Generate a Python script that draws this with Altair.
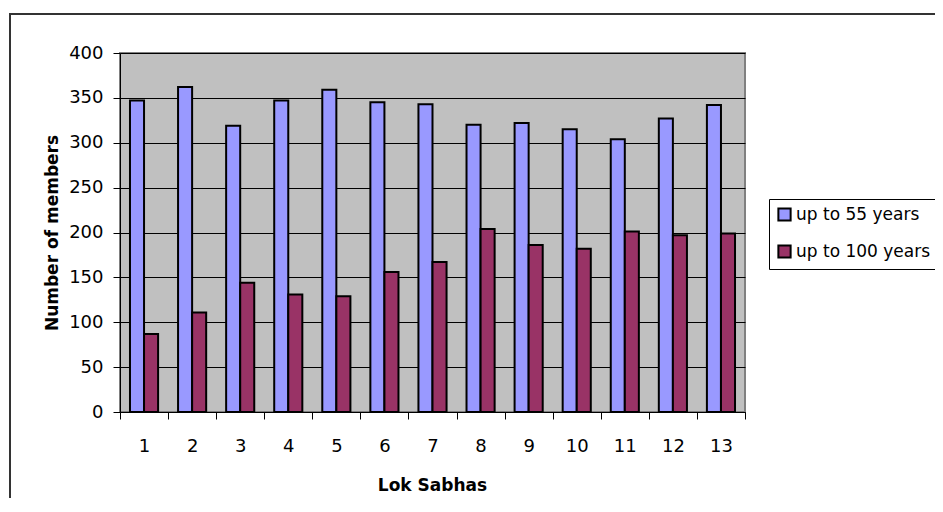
import altair as alt
import pandas as pd

sabhas = [str(i) for i in range(1, 14)]
series_names = ["up to 55 years", "up to 100 years"]
up_to_55 = [347, 362, 319, 347, 359, 345, 343, 320, 322, 315, 304, 327, 342]
up_to_100 = [87, 111, 144, 131, 129, 156, 167, 204, 186, 182, 201, 197, 199]
y_ticks = [0, 50, 100, 150, 200, 250, 300, 350, 400]
colors = ["#9999FF", "#993366"]

rows = []
for i, s in enumerate(sabhas):
    rows.append({"sabha": s, "series": series_names[0], "value": up_to_55[i]})
    rows.append({"sabha": s, "series": series_names[1], "value": up_to_100[i]})
df = pd.DataFrame(rows)

FONT = "DejaVu Sans"

bars = alt.Chart(df).mark_bar(stroke="black", strokeWidth=2).encode(
    x=alt.X(
        "sabha:O",
        sort=sabhas,
        scale=alt.Scale(paddingInner=0, paddingOuter=0),
        axis=alt.Axis(
            title="Lok Sabhas",
            labelAngle=0,
            tickBand="extent",
            tickSize=7,
            tickColor="black",
            domainColor="black",
            labelFont=FONT,
            labelFontSize=18,
            labelColor="black",
            labelPadding=18,
            titleFont=FONT,
            titleFontSize=17,
            titleFontWeight="bold",
            titleColor="black",
            titleX=312,
            titleY=78,
            titleBaseline="alphabetic",
            titleAlign="center",
            grid=False,
        ),
    ),
    xOffset=alt.XOffset(
        "series:N",
        sort=series_names,
        scale=alt.Scale(paddingInner=0, paddingOuter=0.71),
    ),
    y=alt.Y(
        "value:Q",
        scale=alt.Scale(domain=[0, 400], nice=False),
        axis=alt.Axis(
            title="Number of members",
            values=y_ticks,
            tickSize=7,
            tickColor="black",
            domainColor="black",
            grid=True,
            gridColor="black",
            gridWidth=1,
            labelFont=FONT,
            labelFontSize=18,
            labelColor="black",
            labelPadding=10,
            titleFont=FONT,
            titleFontSize=17,
            titleFontWeight="bold",
            titleColor="black",
            titleX=-63,
            titleY=179.5,
            titleBaseline="alphabetic",
            titleAlign="center",
        ),
    ),
    color=alt.Color(
        "series:N",
        sort=series_names,
        scale=alt.Scale(domain=series_names, range=colors),
        legend=alt.Legend(
            title=None,
            orient="none",
            legendX=649,
            legendY=146,
            fillColor="white",
            strokeColor="black",
            padding=7,
            labelFont=FONT,
            labelFontSize=17,
            labelColor="black",
            labelLimit=400,
            labelOffset=3,
            symbolType="square",
            symbolSize=150,
            symbolStrokeColor="black",
            symbolStrokeWidth=2,
            symbolOpacity=1,
            rowPadding=16,
        ),
    ),
)

border = alt.Chart(pd.DataFrame({"a": [0]})).mark_rect(
    fillOpacity=0, stroke="#333333", strokeWidth=2
).encode(
    x=alt.value(-110),
    x2=alt.value(1000),
    y=alt.value(-39),
    y2=alt.value(1000),
)

chart = alt.layer(border, bars).properties(
    width=625,
    height=359,
    autosize=alt.AutoSizeParams(type="none"),
    padding={"left": 112, "top": 45, "right": 190, "bottom": 86},
    background="white",
).configure_view(
    fill="#C0C0C0",
    stroke="#808080",
    strokeWidth=2,
)

chart.save("out.html", embed_options={"renderer": "svg", "actions": False})
